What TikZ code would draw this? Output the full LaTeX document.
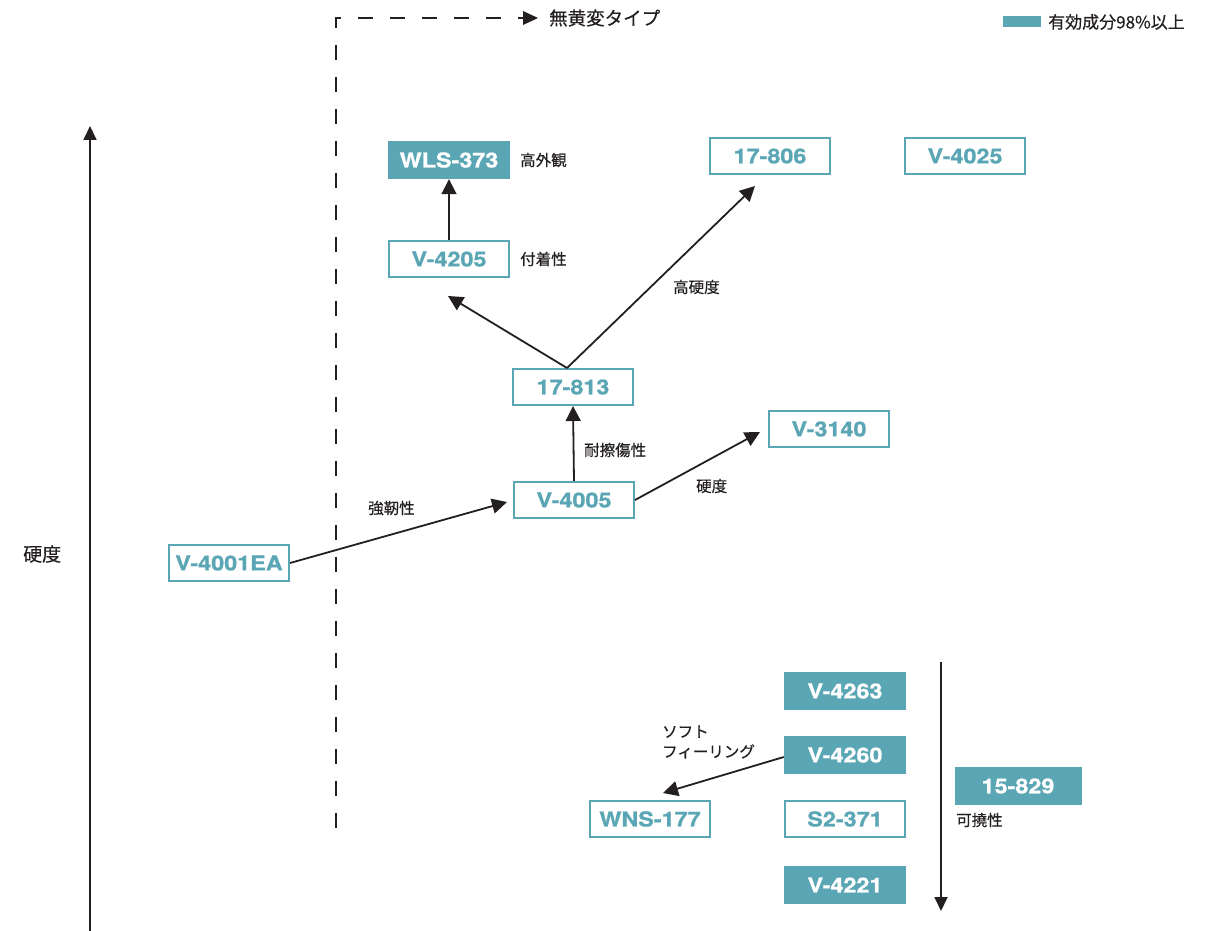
\documentclass[tikz,border=0pt]{standalone}
\usepackage{fontspec}
\usetikzlibrary{arrows.meta,calc}
\setmainfont{TeX Gyre Heros}
\newfontfamily\jpfont[FakeBold=0.4]{Noto Sans CJK JP}
\newfontfamily\boxfont[FakeStretch=1.14,FakeBold=0.9]{TeX Gyre Heros}
\definecolor{teal}{RGB}{91,166,181}
\definecolor{ink}{RGB}{35,31,32}
\tikzset{
  box/.style={draw=teal, line width=2pt, text=teal, minimum width=120pt, minimum height=36pt, inner sep=0pt, font=\boxfont\bfseries\fontsize{20.5}{22}\selectfont},
  fbox/.style={fill=teal, text=white, minimum width=122pt, minimum height=38pt, inner sep=0pt, font=\boxfont\bfseries\fontsize{20.5}{22}\selectfont},
  lab/.style={text=ink, inner sep=0pt, font=\jpfont\fontsize{15.5}{18}\selectfont},
  arr/.style={draw=ink, line width=1.8pt, -{Triangle[length=15pt,width=15pt]}},
  axis/.style={draw=ink, line width=1.8pt, -{Triangle[length=14pt,width=13pt]}},
}
\begin{document}
\begin{tikzpicture}[x=1pt,y=-1pt]
\useasboundingbox (0,0) rectangle (1216,931);
% nodes
\node[fbox] (wls) at (449,160) {WLS-373};
\node[box] (v4205) at (449,259) {V-4205};
\node[box] (n17806) at (770,156) {17-806};
\node[box] (v4025) at (965,156) {V-4025};
\node[box] (n17813) at (573,387) {17-813};
\node[box] (v3140) at (829,429) {V-3140};
\node[box] (v4005) at (574,500) {V-4005};
\node[box] (v4001) at (229,563) {V-4001EA};
\node[fbox] (v4263) at (845,691) {V-4263};
\node[fbox] (v4260) at (845,755) {V-4260};
\node[box] (wns) at (650,819) {WNS-177};
\node[box] (s2) at (845,819) {S2-371};
\node[fbox] (v4221) at (845,885) {V-4221};
\node[fbox, minimum width=127pt] (n15829) at (1018,786) {15-829};
% labels
\node[lab, anchor=west] (l1) at (520,160) {高外観};
\node[lab, anchor=west] (l2) at (520,259) {付着性};
\node[lab, anchor=west] (l3) at (673,287) {高硬度};
\node[lab, anchor=west] (l4) at (584,450) {耐擦傷性};
\node[lab, anchor=west] (l5) at (696,486) {硬度};
\node[lab, anchor=west] (l6) at (368,508) {強靭性};
\node[lab, anchor=west, align=left, font=\jpfont\fontsize{15.5}{20}\selectfont] (l7) at (662,742) {ソフト\\フィーリング};
\node[lab, anchor=west] (l8) at (956,820) {可撓性};
\node[lab, anchor=west, font=\jpfont\fontsize{19}{20}\selectfont] (l9) at (23,554) {硬度};
\node[lab, anchor=west, font=\jpfont\fontsize{18.5}{20}\selectfont] (l10) at (549,18) {無黄変タイプ};
% legend
\node[fill=teal, minimum width=38pt, minimum height=11pt, inner sep=0pt] (leg) at (1022,22) {};
\node[lab, anchor=west, font=\jpfont\fontsize{17}{18}\selectfont] (legt) at (1048,22) {有効成分98\%以上};
% free ends
\coordinate (e1) at (448,296);
\coordinate (e2) at (755,186);
\coordinate (e3) at (663,793);
\coordinate (s1) at (567,368);
\coordinate (ax1a) at (90,931);
\coordinate (ax1b) at (90,126);
\coordinate (ax2a) at (941,662);
\coordinate (ax2b) at (941,911);
\coordinate (d1) at (336,828);
\coordinate (d2) at (336,18);
% connectors
\draw[arr] (v4205.north) -- (wls.south);
\draw[arr] (s1) -- (e1);
\draw[arr] (s1) -- (e2);
\draw[arr] (v4005.north) -- (n17813.south);
\draw[arr] (v4005.east) -- ($(v3140.west)+(-8,3)$);
\draw[arr] (v4001.east) -- ($(v4005.west)+(-6,2)$);
\draw[arr] ($(v4260.west)+(0,2)$) -- (e3);
\draw[axis] (ax1a) -- (ax1b);
\draw[axis] (ax2a) -- (ax2b);
\draw[draw=ink, line width=1.8pt, dash pattern=on 15pt off 17pt] (d1) -- (d2) -- (523,18);
\fill[ink] (523,11) -- (538,18) -- (523,25) -- cycle;
\end{tikzpicture}
\end{document}
